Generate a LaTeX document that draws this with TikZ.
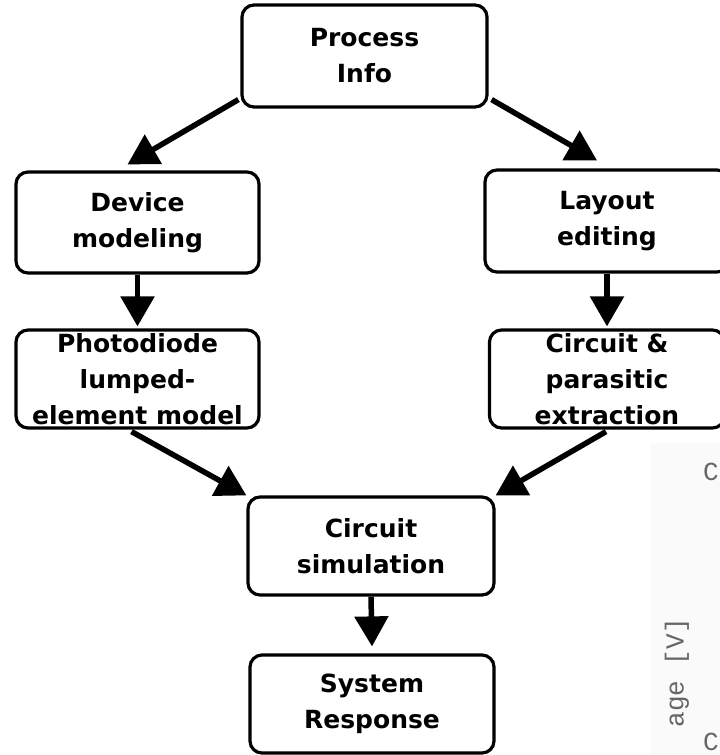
\documentclass[tikz,border=0pt]{standalone}
\usepackage{fontspec}
\setmainfont{DejaVu Sans}
\newfontfamily\plotfont{Liberation Mono}
\usetikzlibrary{arrows.meta,calc}
\begin{document}
\begin{tikzpicture}[x=1pt,y=-1pt,
  box/.style={draw=black, line width=3.2pt, rounded corners=12pt, align=center,
    inner sep=0pt, font=\fontsize{25}{36}\selectfont\bfseries},
  arr/.style={line width=5.5pt, -{Triangle[length=30pt,width=33pt]}},
  plottext/.style={text=black!60, font=\plotfont\fontsize{26}{26}\selectfont, inner sep=0pt}]
\clip (0,0) rectangle (720,755);
\fill[black!2] (650,443) rectangle (720,755);
\node[plottext, rotate=90, anchor=east] (yl) at (677,618) {age [V]};
\node[plottext, anchor=west] (c1) at (703,472) {C};
\node[plottext, anchor=west] (c2) at (703,742) {C};

\node[box, minimum width=245pt, minimum height=102pt] (proc) at (364.5,56) {Process\\Info};
\node[box, minimum width=243pt, minimum height=101pt] (dev) at (137.5,222.5) {Device\\modeling};
\node[box, minimum width=244pt, minimum height=102pt] (lay) at (607,221) {Layout\\editing};
\node[box, minimum width=243pt, minimum height=98pt] (pd) at (137.5,379) {Photodiode\\lumped-\\element model};
\node[box, minimum width=235pt, minimum height=98pt] (cx) at (607,379) {Circuit \&\\parasitic\\extraction};
\node[box, minimum width=246pt, minimum height=98pt] (cs) at (371,546) {Circuit\\simulation};
\node[box, minimum width=244pt, minimum height=98pt] (sys) at (372,704) {System\\Response};

\draw[arr] ($(proc.south west)+(-2,-9)$) -- ($(dev.north)+(-10,-6)$);
\draw[arr] ($(proc.south east)+(3,-9)$) -- ($(lay.north)+(-10,-8)$);
\draw[arr] (dev.south) -- ($(pd.north)+(0,-2)$);
\draw[arr] (lay.south) -- ($(cx.north)+(0,-2)$);
\draw[arr] ($(pd.south)+(-6,2)$) -- (cs.north west);
\draw[arr] ($(cx.south)+(-1,2)$) -- (cs.north east);
\draw[arr] (cs.south) -- ($(sys.north)+(0,-7)$);
\end{tikzpicture}
\end{document}
